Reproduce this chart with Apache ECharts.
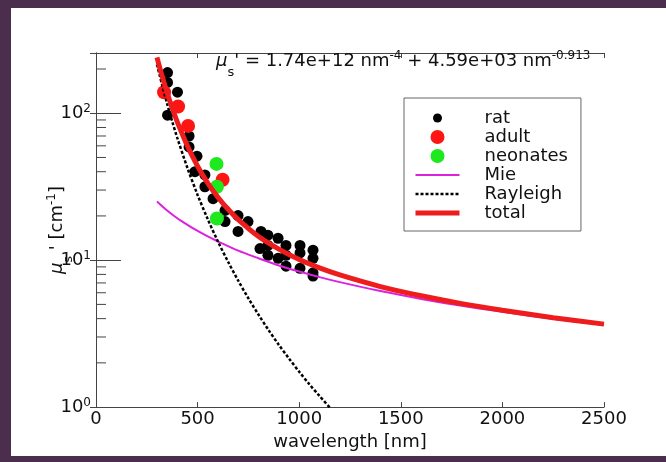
<!DOCTYPE html>
<html>
<head>
<meta charset="utf-8">
<script src="https://cdn.jsdelivr.net/npm/echarts@6/dist/echarts.min.js"></script>
<style>
  html, body { margin: 0; padding: 0; width: 666px; height: 462px; background: #4b2d4d; overflow: hidden; }
  #chart { position: absolute; left: 11px; top: 8px; width: 655px; height: 448px; background: #ffffff; }
</style>
</head>
<body>
<div id="chart"></div>
<script>
// ---- data ----
const xTicks = [0, 500, 1000, 1500, 2000, 2500];
const yMinorTicks = [2, 3, 4, 5, 6, 7, 8, 9, 20, 30, 40, 50, 60, 70, 80, 90, 200];

const ratWl  = [352, 352, 401, 352, 458, 458, 497, 487, 536, 536, 576, 635, 635, 699, 748, 699, 812, 846, 896, 807, 846, 935, 1004, 1068, 846, 896, 935, 1004, 1068, 935, 1004, 1068, 1068];
const ratMu  = [189, 162, 139, 97, 70, 59, 51, 40, 38, 31.6, 26.2, 21.8, 18.3, 20.1, 18.3, 15.7, 15.7, 14.8, 14.1, 12.0, 12.6, 12.6, 12.6, 11.7, 10.8, 10.3, 10.8, 11.2, 10.3, 9.1, 8.8, 8.2, 7.8];

const adultWl = [335, 404, 453, 623];
const adultMu = [139, 111, 82, 35.3];

const neoWl = [593, 595, 595];
const neoMu = [45.2, 31.6, 19.2];

const mieWl  = [300, 350, 400, 450, 500, 550, 600, 700, 800, 900, 1000, 1100, 1200, 1400, 1600, 1800, 2000, 2250, 2500];
const mieMu  = [25.1, 21.8, 19.3, 17.4, 15.8, 14.5, 13.4, 11.6, 10.3, 9.2, 8.37, 7.67, 7.09, 6.16, 5.45, 4.89, 4.45, 3.99, 3.63];

const rayWl  = [300, 325, 350, 375, 400, 450, 500, 550, 600, 650, 700, 750, 800, 850, 900, 950, 1000, 1050, 1100, 1150];
const rayMu  = [214.8, 156.0, 116.0, 88.0, 68.0, 42.4, 27.8, 19.0, 13.4, 9.75, 7.25, 5.50, 4.25, 3.33, 2.65, 2.14, 1.74, 1.43, 1.19, 0.995];

const totWl  = [300, 325, 350, 375, 400, 450, 500, 550, 600, 650, 700, 800, 900, 1000, 1100, 1200, 1400, 1600, 1800, 2000, 2250, 2500];
const totMu  = [239.9, 179.3, 137.8, 108.5, 87.3, 59.8, 43.6, 33.5, 26.8, 22.2, 18.9, 14.5, 11.9, 10.1, 8.86, 7.93, 6.61, 5.72, 5.06, 4.56, 4.06, 3.67];

// ---- helpers ----
const zip = (a, b) => a.map((v, i) => [v, b[i]]);
const FONT = 'DejaVu Sans';
const AX = '#444';
const TXT = '#111';

const richSet = {
  mu:  { fontFamily: FONT, fontSize: 18, fontStyle: 'italic', fontWeight: 'normal', color: TXT, lineHeight: 22, verticalAlign: 'middle' },
  n:   { fontFamily: FONT, fontSize: 18, fontWeight: 'normal', color: TXT, lineHeight: 22, verticalAlign: 'middle' },
  sup: { fontFamily: FONT, fontSize: 12, fontWeight: 'normal', color: TXT, lineHeight: 12, verticalAlign: 'top' },
  sub: { fontFamily: FONT, fontSize: 13, fontWeight: 'normal', color: TXT, lineHeight: 13, verticalAlign: 'top', padding: [16, 0, 0, 0] }
};

const chart = echarts.init(document.getElementById('chart'), null, { renderer: 'canvas' });

const option = {
  animation: false,
  textStyle: { fontFamily: FONT },
  title: {
    left: 205, top: 42, padding: 0,
    text: "{mu|μ}{sub|s}{n|' = 1.74e+12 nm}{sup|-4}{n| + 4.59e+03 nm}{sup|-0.913}",
    textStyle: { fontWeight: 'normal', fontFamily: FONT, fontSize: 18, color: TXT, rich: richSet }
  },
  legend: {
    left: 393, top: 90,
    orient: 'vertical',
    data: [
      { name: 'rat', icon: 'path://M0,0M14,14M2.5,7A4.5,4.5 0 1 0 11.5,7A4.5,4.5 0 1 0 2.5,7Z' },
      { name: 'adult', icon: 'circle' },
      { name: 'neonates', icon: 'circle' },
      { name: 'Mie', itemStyle: { opacity: 0 }, lineStyle: { width: 2 } },
      { name: 'Rayleigh', itemStyle: { opacity: 0 }, lineStyle: { width: 2.5 } },
      { name: 'total', itemStyle: { opacity: 0 }, lineStyle: { width: 5 } }
    ],
    itemWidth: 44, itemHeight: 14, itemGap: 1,
    padding: [11, 13, 9, 9],
    borderColor: '#666', borderWidth: 1,
    textStyle: { fontFamily: FONT, fontSize: 18, color: TXT, padding: [0, 0, 0, 20] }
  },
  grid: { left: 85, top: 45, right: 62, bottom: 46, containLabel: false },
  xAxis: [
    {
      type: 'value', min: 0, max: 2500, interval: 500, position: 'bottom',
      name: 'wavelength [nm]', nameLocation: 'middle', nameGap: 16,
      nameTextStyle: { fontFamily: FONT, fontSize: 18, color: TXT },
      axisLine: { show: true, lineStyle: { color: AX, width: 1 } },
      axisTick: { show: true, inside: true, length: 5, lineStyle: { color: AX } },
      axisLabel: { margin: 3, fontFamily: FONT, fontSize: 18, color: TXT,
        formatter: v => (xTicks.indexOf(v) >= 0 ? String(v) : '') },
      splitLine: { show: false }
    },
    {
      type: 'value', min: 0, max: 2500, interval: 500, position: 'top',
      axisLine: { show: true, lineStyle: { color: AX, width: 1 } },
      axisTick: { show: true, inside: true, length: 5, lineStyle: { color: AX } },
      axisLabel: { show: false },
      splitLine: { show: false }
    }
  ],
  yAxis: [
    {
      type: 'log', logBase: 10, min: 1, max: 257, position: 'left',
      name: "{mu|μ}{sub|s}{n| ' [cm}{sup|-1}{n|]}",
      nameLocation: 'middle', nameGap: 28, nameMoveOverlap: false,
      nameTextStyle: { rich: richSet },
      axisLine: { show: true, lineStyle: { color: AX, width: 1 } },
      axisTick: { show: true, inside: true, length: 25, lineStyle: { color: AX } },
      axisLabel: {
        margin: 5,
        formatter: v => {
          const e = Math.log10(v);
          if (Math.abs(e - Math.round(e)) > 1e-6) return '';
          return '{b|10}{sup|' + Math.round(e) + '}';
        },
        rich: {
          b:   { fontFamily: FONT, fontSize: 18, color: TXT, lineHeight: 20, verticalAlign: 'middle' },
          sup: { fontFamily: FONT, fontSize: 12, color: TXT, lineHeight: 12, verticalAlign: 'top' }
        }
      },
      splitLine: { show: false },
      minorTick: { show: false }
    },
    {
      type: 'log', logBase: 10, min: 1, max: 257, position: 'right',
      axisLine: { show: true, lineStyle: { color: AX, width: 1 } },
      axisTick: { show: true, inside: true, length: 6, lineStyle: { color: AX } },
      axisLabel: { show: false },
      splitLine: { show: false }
    }
  ],
  series: [
    {
      name: 'rat', type: 'scatter', data: zip(ratWl, ratMu),
      symbol: 'circle', symbolSize: 11, itemStyle: { color: '#000000', opacity: 1 }, z: 3
    },
    {
      name: 'adult', type: 'scatter', data: zip(adultWl, adultMu),
      symbol: 'circle', symbolSize: 14, itemStyle: { color: '#ff1414', opacity: 1 }, z: 3
    },
    {
      name: 'neonates', type: 'scatter', data: zip(neoWl, neoMu),
      symbol: 'circle', symbolSize: 14, itemStyle: { color: '#1ee81e', opacity: 1 }, z: 3
    },
    {
      name: 'Mie', type: 'line', data: zip(mieWl, mieMu), smooth: 0.3,
      symbol: 'none', lineStyle: { color: '#dd22dd', width: 2 }, itemStyle: { color: '#dd22dd' }, z: 4
    },
    {
      name: 'Rayleigh', type: 'line', data: zip(rayWl, rayMu), smooth: 0.3,
      symbol: 'none', lineStyle: { color: '#000000', width: 2.5, type: [3, 2] }, itemStyle: { color: '#000000' }, z: 4
    },
    {
      name: 'total', type: 'line', data: zip(totWl, totMu), smooth: 0.3,
      symbol: 'none', lineStyle: { color: '#ee1c1c', width: 5 }, itemStyle: { color: '#ee1c1c' }, z: 5
    },
    {
      name: 'minorTicks', type: 'custom', silent: true, z: 6,
      data: yMinorTicks.map(v => [0, v]),
      renderItem: (params, api) => {
        const p = api.coord([0, api.value(1)]);
        return {
          type: 'line',
          shape: { x1: p[0], y1: p[1], x2: p[0] + 10, y2: p[1] },
          style: { stroke: AX, lineWidth: 1 }
        };
      }
    }
  ]
};

chart.setOption(option);
</script>
</body>
</html>
